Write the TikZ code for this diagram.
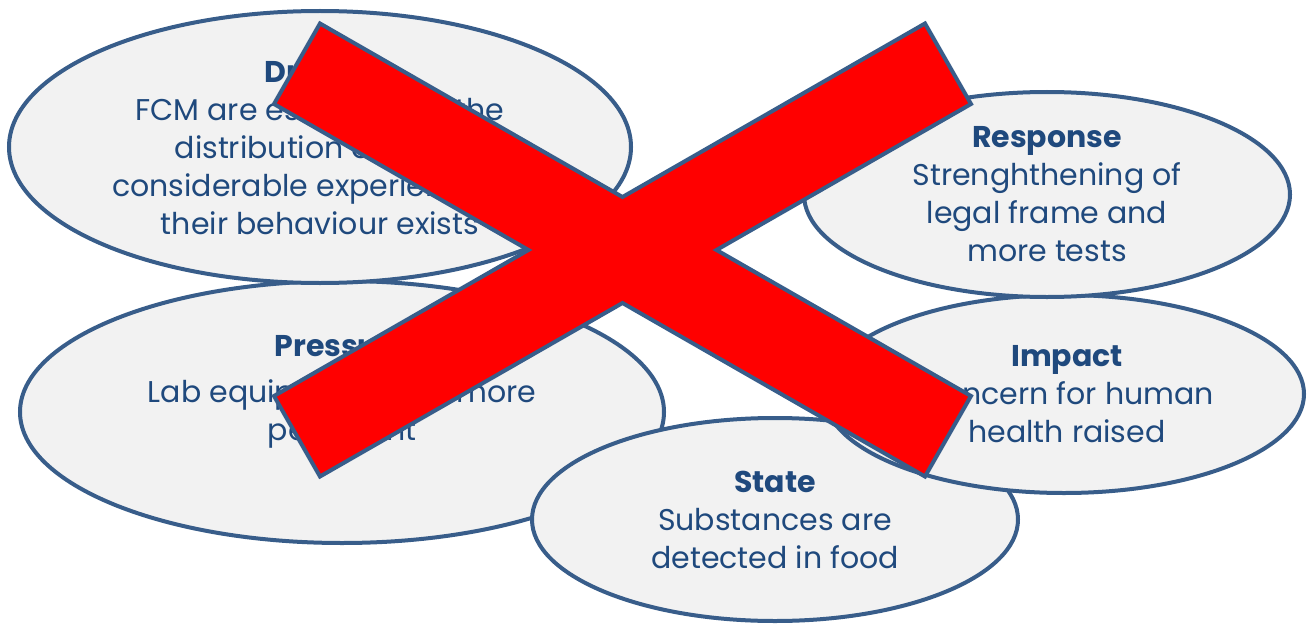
\documentclass[tikz,border=0pt]{standalone}
\usepackage{fontspec}
\setmainfont{Poppins}
\usetikzlibrary{shapes.geometric}
\definecolor{rim}{HTML}{385D8A}
\definecolor{ink}{HTML}{1F497D}
\definecolor{shade}{HTML}{F2F2F2}

\begin{document}
\begin{tikzpicture}[x=1pt, y=-1pt,
    bubble/.style={ellipse, draw=rim, fill=shade, line width=4pt, inner sep=0pt},
    words/.style={align=center, text=ink, font=\fontsize{30}{38}\selectfont},
    cross/.style={draw=rim, fill=red, line width=4pt, line join=miter}
]
\useasboundingbox (0,0) rectangle (1307,626);

% DPSIR bubbles, back to front
\node[bubble, minimum width=644pt, minimum height=262pt] (pressure) at (342,412) {};
\node[words] (pressure-text) at ([yshift=20pt]pressure) {\textbf{Pressure}\\[8pt]Lab equipment gets more\\persistent};
\node[bubble, minimum width=622pt, minimum height=272pt] (driver) at (320,147) {};
\node[words] (driver-text) at (driver) {\textbf{Drivers}\\FCM are essential for the\\distribution of food;\\considerable experience on\\their behaviour exists};
\node[bubble, minimum width=486pt, minimum height=203pt] (state) at (775,519.5) {};
\node[words] (state-text) at (state) {\textbf{State}\\Substances are\\detected in food};
\node[bubble, minimum width=480pt, minimum height=198pt] (impact) at (1064,394) {};
\node[words] (impact-text) at ([xshift=3pt]impact) {\textbf{Impact}\\Concern for human\\health raised};
\node[bubble, minimum width=486pt, minimum height=205pt] (response) at (1047,194.5) {};
\node[words] (response-text) at (response) {\textbf{Response}\\Strenghthening of\\legal frame and\\more tests};

% big red cross on top
\begin{scope}[shift={(622.5,250)}]
\draw[cross] (-302.5,-226.5) -- (0,-53) -- (302.5,-226.5) -- (348.5,-146) -- (94,0)
    -- (348.5,146) -- (302.5,226.5) -- (0,53) -- (-302.5,226.5) -- (-348.5,146)
    -- (-94,0) -- (-348.5,-146) -- cycle;
\end{scope}
\end{tikzpicture}
\end{document}
